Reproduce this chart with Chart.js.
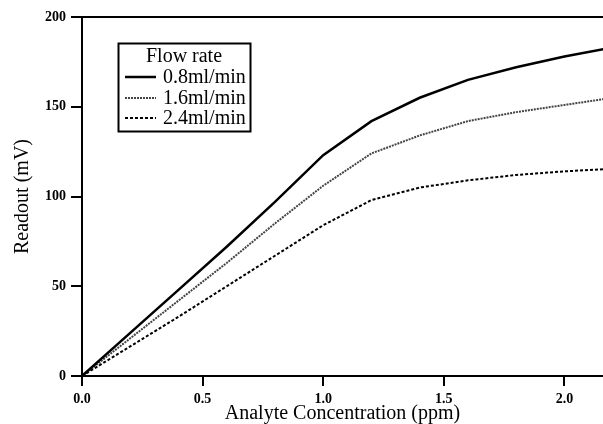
<!DOCTYPE html>
<html>
<head>
<meta charset="utf-8">
<script src="https://cdn.jsdelivr.net/npm/chart.js@4/dist/chart.umd.min.js"></script>
<style>
  body { margin: 0; background: #fff; }
  #wrap { width: 603px; height: 424px; position: relative; }
</style>
</head>
<body>
<div id="wrap"><canvas id="chart"></canvas></div>
<script>
// concentration (ppm)
var concentration = [0, 0.2, 0.4, 0.6, 0.8, 1.0, 1.2, 1.4, 1.6, 1.8, 2.0, 2.2];
// readout (mV) per flow rate
var flow08 = [0, 24, 48, 72, 97, 123, 142, 155, 165, 172, 178, 183];
var flow16 = [0, 21, 42, 63, 85, 106, 124, 134, 142, 147, 151, 155];
var flow24 = [0, 16.5, 33, 50, 67, 84, 98, 105, 109, 112, 114, 115.5];
var seriesLabels = ['0.8ml/min', '1.6ml/min', '2.4ml/min'];
var legendTitle = 'Flow rate';
var xTicks = [0, 0.5, 1.0, 1.5, 2.0];
var yTicks = [0, 50, 100, 150, 200];

var serif = "'Liberation Serif', 'Times New Roman', serif";

function toPoints(ys) {
    return concentration.map((x, i) => ({x: x, y: ys[i]}));
}

// top frame line, outward tick marks, boxed legend inside the plot
var framePlugin = {
    id: 'frame',
    afterDraw(chart) {
        const ctx = chart.ctx, a = chart.chartArea;
        const sx = chart.scales.x, sy = chart.scales.y;
        ctx.save();
        ctx.strokeStyle = '#000';
        ctx.lineWidth = 2;
        ctx.beginPath();
        ctx.moveTo(a.left, a.top);
        ctx.lineTo(a.right, a.top);
        xTicks.forEach(v => {
            const px = Math.round(sx.getPixelForValue(v));
            ctx.moveTo(px, a.bottom);
            ctx.lineTo(px, a.bottom + 10);
        });
        yTicks.forEach(v => {
            const py = Math.round(sy.getPixelForValue(v));
            ctx.moveTo(a.left, py);
            ctx.lineTo(a.left - 11, py);
        });
        ctx.stroke();

        // legend box
        const bx = 118, by = 43, bw = 132, bh = 88;
        ctx.fillStyle = '#fff';
        ctx.fillRect(bx, by, bw, bh);
        ctx.strokeRect(bx + 0.5, by + 0.5, bw, bh);

        ctx.fillStyle = '#000';
        ctx.font = '20px ' + serif;
        ctx.textBaseline = 'middle';
        ctx.textAlign = 'center';
        ctx.fillText(legendTitle, bx + bw / 2, 57);

        const rows = [77, 98, 118];
        chart.data.datasets.forEach((ds, i) => {
            ctx.save();
            ctx.strokeStyle = ds.borderColor;
            ctx.lineWidth = ds.borderWidth;
            ctx.setLineDash(ds.borderDash || []);
            ctx.beginPath();
            ctx.moveTo(125, rows[i]);
            ctx.lineTo(156, rows[i]);
            ctx.stroke();
            ctx.restore();
            ctx.textAlign = 'left';
            ctx.fillText(ds.label, 163, rows[i] + 1);
        });
        ctx.restore();
    }
};

new Chart(document.getElementById('chart').getContext('2d'), {
    type: 'line',
    data: {
        datasets: [
            { label: seriesLabels[0], data: toPoints(flow08), borderColor: '#000', borderWidth: 2.5, borderDash: [] },
            { label: seriesLabels[1], data: toPoints(flow16), borderColor: '#444', borderWidth: 2, borderDash: [2, 1] },
            { label: seriesLabels[2], data: toPoints(flow24), borderColor: '#000', borderWidth: 2, borderDash: [3, 2] }
        ]
    },
    options: {
        responsive: true,
        maintainAspectRatio: false,
        animation: false,
        layout: { padding: { top: 17, left: 0, right: 0, bottom: 0 } },
        elements: { point: { radius: 0 }, line: { tension: 0 } },
        plugins: {
            legend: { display: false },
            tooltip: { enabled: false }
        },
        scales: {
            x: {
                type: 'linear',
                min: 0,
                max: 2.16,
                afterFit: s => { s.height = 48; },
                afterBuildTicks: s => { s.ticks = xTicks.map(v => ({value: v})); },
                ticks: {
                    color: '#000',
                    padding: 5,
                    font: { family: serif, size: 14, weight: 'bold' },
                    callback: v => v.toFixed(1)
                },
                grid: { drawOnChartArea: false, tickLength: 10, color: '#000', lineWidth: 2 },
                border: { color: '#000', width: 2 },
                title: {
                    display: true,
                    text: 'Analyte Concentration (ppm)',
                    color: '#000',
                    padding: 0,
                    font: { family: serif, size: 20, lineHeight: 1 }
                }
            },
            y: {
                min: 0,
                max: 200,
                afterFit: s => { s.width = 82; },
                afterBuildTicks: s => { s.ticks = yTicks.map(v => ({value: v})); },
                ticks: {
                    color: '#000',
                    padding: 6,
                    font: { family: serif, size: 14, weight: 'bold' }
                },
                grid: { drawOnChartArea: false, tickLength: 10, color: '#000', lineWidth: 2 },
                border: { color: '#000', width: 2 },
                title: {
                    display: true,
                    text: 'Readout (mV)',
                    color: '#000',
                    padding: 11,
                    font: { family: serif, size: 20 }
                }
            }
        }
    },
    plugins: [framePlugin]
});
</script>
</body>
</html>
